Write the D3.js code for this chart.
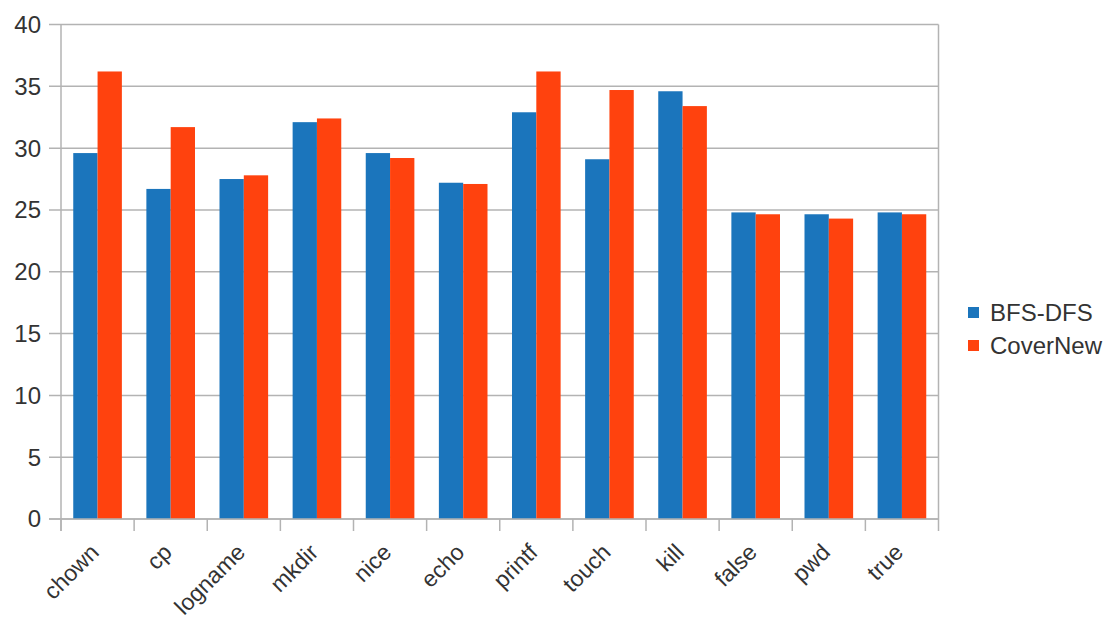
<!DOCTYPE html>
<html>
<head>
<meta charset="utf-8">
<script src="https://cdn.jsdelivr.net/npm/d3@7"></script>
<style>
body { margin: 0; background: #fff; }
text { font-family: "Liberation Sans", Arial, sans-serif; fill: #333; }
</style>
</head>
<body>
<svg id="chart" width="1107" height="619"></svg>
<script>
var categories = ["chown", "cp", "logname", "mkdir", "nice", "echo", "printf", "touch", "kill", "false", "pwd", "true"];
var seriesNames = ["BFS-DFS", "CoverNew"];
var bfsDfs = [29.6, 26.7, 27.5, 32.1, 29.6, 27.2, 32.9, 29.1, 34.6, 24.8, 24.65, 24.8];
var coverNew = [36.2, 31.7, 27.8, 32.4, 29.2, 27.1, 36.2, 34.7, 33.4, 24.65, 24.3, 24.65];
var yTicks = [0, 5, 10, 15, 20, 25, 30, 35, 40];
var colors = ["#1b75bc", "#ff420e"];

var svg = d3.select("#chart");
var plotL = 61, plotR = 938.5, plotT = 24.5, plotB = 519;

var x = d3.scaleBand().domain(categories).range([plotL, plotR]).paddingInner(0.335).paddingOuter(0.1675);
var xs = d3.scaleBand().domain(seriesNames).range([0, x.bandwidth()]);
var y = d3.scaleLinear().domain([0, 40]).range([plotB, plotT]);

// grid
svg.append("g").selectAll("line").data(yTicks).enter().append("line")
	.attr("x1", plotL - 12).attr("x2", plotR)
	.attr("y1", function(d) { return y(d); }).attr("y2", function(d) { return y(d); })
	.attr("stroke", "#b3b3b3").attr("stroke-width", 1.5);

// plot border right + left axis
svg.append("line").attr("x1", plotR).attr("x2", plotR).attr("y1", plotT).attr("y2", plotB)
	.attr("stroke", "#b3b3b3").attr("stroke-width", 1.5);
svg.append("line").attr("x1", plotL).attr("x2", plotL).attr("y1", plotT).attr("y2", plotB + 12)
	.attr("stroke", "#b3b3b3").attr("stroke-width", 1.5);

// y labels
svg.append("g").selectAll("text").data(yTicks).enter().append("text")
	.attr("x", plotL - 20).attr("y", function(d) { return y(d); })
	.attr("dy", "0.35em").attr("text-anchor", "end")
	.style("font-size", "24px")
	.text(function(d) { return d; });

// bars
var series = [bfsDfs, coverNew];
series.forEach(function(vals, si) {
	svg.append("g").selectAll("rect").data(categories).enter().append("rect")
		.attr("x", function(d) { return x(d) + xs(seriesNames[si]); })
		.attr("y", function(d, i) { return y(vals[i]); })
		.attr("width", xs.bandwidth())
		.attr("height", function(d, i) { return y(0) - y(vals[i]); })
		.attr("fill", colors[si]);
});

// x ticks at category boundaries
var bounds = d3.range(categories.length + 1).map(function(i) { return plotL + i * (plotR - plotL) / categories.length; });
svg.append("g").selectAll("line").data(bounds).enter().append("line")
	.attr("x1", function(d) { return d; }).attr("x2", function(d) { return d; })
	.attr("y1", plotB).attr("y2", plotB + 12)
	.attr("stroke", "#b3b3b3").attr("stroke-width", 1.5);

// x axis line
svg.append("line").attr("x1", plotL - 12).attr("x2", plotR).attr("y1", plotB).attr("y2", plotB)
	.attr("stroke", "#b3b3b3").attr("stroke-width", 1.5);

// x labels
svg.append("g").selectAll("text").data(categories).enter().append("text")
	.attr("transform", function(d) {
		var cx = x(d) + x.bandwidth() / 2 - 3;
		return "translate(" + cx + "," + (plotB + 29) + ") rotate(-45)";
	})
	.attr("text-anchor", "end").attr("dy", "0.35em")
	.style("font-size", "23px")
	.text(function(d) { return d; });

// legend
var legend = svg.append("g").selectAll("g").data(seriesNames).enter().append("g")
	.attr("transform", function(d, i) { return "translate(968," + (307 + i * 33) + ")"; });
legend.append("rect").attr("width", 11).attr("height", 11)
	.attr("fill", function(d, i) { return colors[i]; });
legend.append("text").attr("x", 22).attr("y", 5.5).attr("dy", "0.35em")
	.style("font-size", "24px")
	.text(function(d) { return d; });
</script>
</body>
</html>
